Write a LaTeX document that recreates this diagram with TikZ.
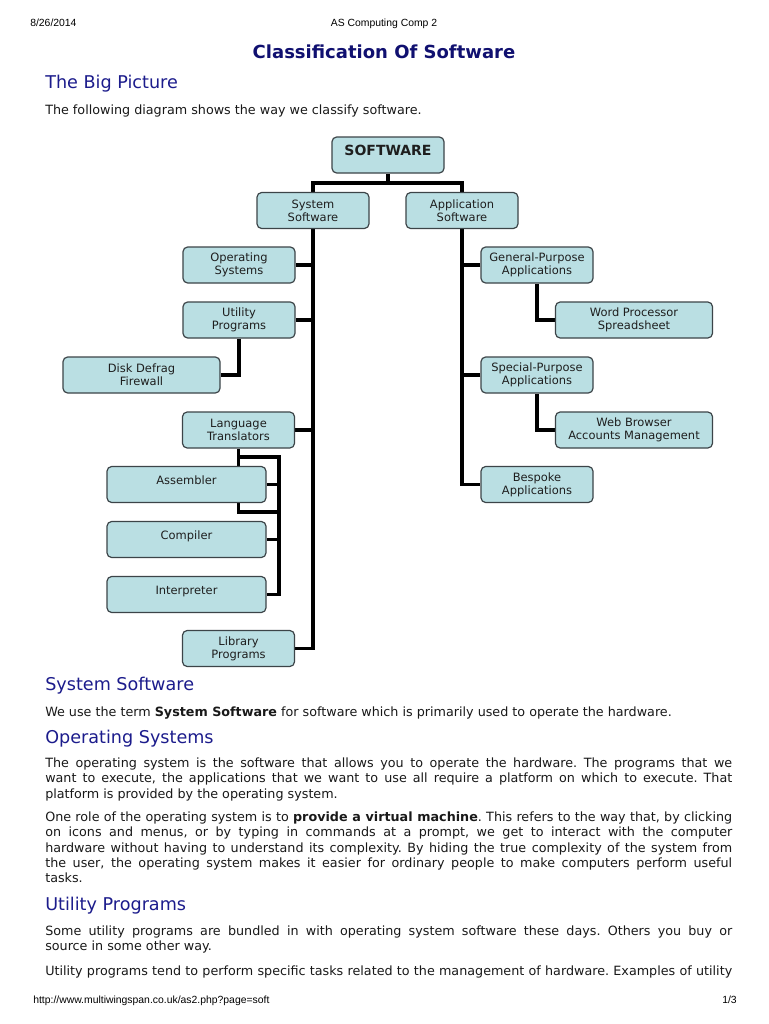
\documentclass[tikz,border=0pt]{standalone}
\usepackage{fontspec}
\setmainfont{DejaVu Sans}
\newfontfamily\arialfont{Liberation Sans}
\definecolor{boxfill}{RGB}{186,223,227}
\definecolor{boxline}{RGB}{60,68,72}
\definecolor{navy}{RGB}{16,16,112}
\definecolor{headblue}{RGB}{28,28,140}
\definecolor{bodytext}{RGB}{25,25,25}
\definecolor{boxtext}{RGB}{30,30,30}
\pgfdeclarelayer{bg}
\pgfsetlayers{bg,main}
\newlength\bodyw
\setlength\bodyw{515.25pt}
\newcommand\jl[1]{\makebox[\bodyw][s]{#1}}
\frenchspacing
\tikzset{
  box/.style={draw=boxline, fill=boxfill, rounded corners=3.5pt, line width=0.9pt,
    align=center, inner sep=0pt, minimum width=84pt, minimum height=27pt,
    font=\fontsize{8.6}{9.5}\selectfont, text=boxtext},
  widebox/.style={box, minimum width=117.75pt},
  oneline/.style={text height=6pt, text depth=6pt},
  conn/.style={line width=2.3pt, line join=miter, draw=black},
  pagehead/.style={font=\arialfont\fontsize{7.8}{9}\selectfont, inner sep=0pt, anchor=base west, text=black},
  heading/.style={font=\fontsize{13.2}{15}\selectfont, text=headblue, inner sep=0pt, anchor=base west},
  body/.style={font=\fontsize{9.55}{11}\selectfont\frenchspacing, text=bodytext, inner sep=0pt, anchor=base west},
}
\begin{document}
\begin{tikzpicture}[x=0.75pt,y=-0.75pt]
\useasboundingbox (0,0) rectangle (768,1024);
\begin{pgfonlayer}{bg}
\fill[white] (0,0) rectangle (768,1024);
\end{pgfonlayer}

% page header and footer
\node[pagehead] (date) at (30,27) {8/26/2014};
\node[pagehead, anchor=base] (ptitle) at (384,27) {AS Computing Comp 2};
\node[pagehead] (url) at (33,1003) {http://www.multiwingspan.co.uk/as2.php?page=soft};
\node[pagehead, anchor=base east] (pageno) at (737,1003) {1/3};

% title and intro
\node[font=\bfseries\fontsize{13.5}{16}\selectfont, text=navy, anchor=base, inner sep=0pt] (title) at (384,59) {Classification Of Software};
\node[heading] (hbig) at (45,89) {The Big Picture};
\node[body] (intro) at (45,114) {The following diagram shows the way we classify software.};

% diagram
\node[box, oneline, font=\bfseries\fontsize{10.5}{12}\selectfont] (sw) at (388,155) {SOFTWARE};
\node[box] (sys) at (313,210.5) {System\\Software};
\node[box] (app) at (462,210.5) {Application\\Software};
\node[box] (os) at (239,265) {Operating\\Systems};
\node[box] (ut) at (239,320) {Utility\\Programs};
\node[widebox] (dd) at (141.5,375) {Disk Defrag\\Firewall};
\node[box] (lt) at (238.5,430) {Language\\Translators};
\node[widebox, oneline, minimum width=119.25pt] (asm) at (186.5,484.5) {Assembler};
\node[widebox, oneline, minimum width=119.25pt] (comp) at (186.5,539.5) {Compiler};
\node[widebox, oneline, minimum width=119.25pt] (interp) at (186.5,594.5) {Interpreter};
\node[box] (lib) at (238.5,648.5) {Library\\Programs};
\node[box] (gp) at (537,265) {General-Purpose\\Applications};
\node[widebox] (wp) at (634,320) {Word Processor\\Spreadsheet};
\node[box] (sp) at (537,375) {Special-Purpose\\Applications};
\node[widebox] (wb) at (634,430) {Web Browser\\Accounts Management};
\node[box] (bes) at (537,484.5) {Bespoke\\Applications};

\coordinate (j1) at (388,183);
\coordinate (lj) at (279,457);
\coordinate (lk) at (279,512);

\begin{pgfonlayer}{bg}
\draw[conn] (sw.south) -- (j1);
\draw[conn] (sys.north) |- (j1) -| (app.north);
\draw[conn] (sys.south) |- (lib.east);
\draw[conn] (os.east) -- (os.east -| sys.south);
\draw[conn] (ut.east) -- (ut.east -| sys.south);
\draw[conn] (lt.east) -- (lt.east -| sys.south);
\draw[conn] (ut.south) |- (dd.east);
\draw[conn] (lt.south) -- (lt.south |- asm.north);
\draw[conn] (lt.south |- lj) -- (lj) |- (interp.east);
\draw[conn] (asm.east) -- (asm.east -| lj);
\draw[conn] (comp.east) -- (comp.east -| lj);
\draw[conn] (lt.south |- asm.south) |- (lk);
\draw[conn] (app.south) |- (bes.west);
\draw[conn] (gp.west) -- (gp.west -| app.south);
\draw[conn] (sp.west) -- (sp.west -| app.south);
\draw[conn] (gp.south) |- (wp.west);
\draw[conn] (sp.south) |- (wb.west);
\end{pgfonlayer}

% text sections
\node[heading] (hsys) at (45,690.5) {System Software};
\node[body] (psys) at (45,716) {We use the term \textbf{System Software} for software which is primarily used to operate the hardware.};

\node[heading] (hos) at (45,743.5) {Operating Systems};
\node[body] (osa1) at (45,767) {\jl{The operating system is the software that allows you to operate the hardware. The programs that we}};
\node[body] (osa2) at (45,782.5) {\jl{want to execute, the applications that we want to use all require a platform on which to execute. That}};
\node[body] (osa3) at (45,798) {platform is provided by the operating system.};

\node[body] (osb1) at (45,821) {\jl{One role of the operating system is to \textbf{provide a virtual machine}. This refers to the way that, by clicking}};
\node[body] (osb2) at (45,836.5) {\jl{on icons and menus, or by typing in commands at a prompt, we get to interact with the computer}};
\node[body] (osb3) at (45,852) {\jl{hardware without having to understand its complexity. By hiding the true complexity of the system from}};
\node[body] (osb4) at (45,867) {\jl{the user, the operating system makes it easier for ordinary people to make computers perform useful}};
\node[body] (osb5) at (45,882.5) {tasks.};

\node[heading] (hut) at (45,910.5) {Utility Programs};
\node[body] (uta1) at (45,935) {\jl{Some utility programs are bundled in with operating system software these days. Others you buy or}};
\node[body] (uta2) at (45,950) {source in some other way.};
\node[body] (utb1) at (45,975) {\jl{Utility programs tend to perform specific tasks related to the management of hardware. Examples of utility}};
\end{tikzpicture}
\end{document}
